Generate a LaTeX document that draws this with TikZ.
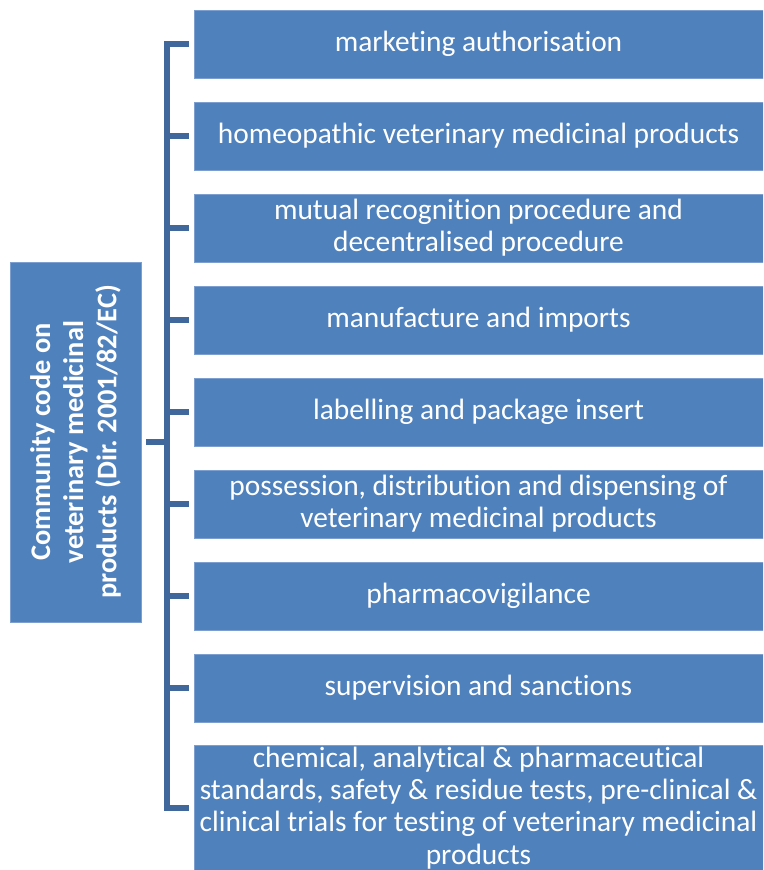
\documentclass[tikz,border=0pt]{standalone}
\usepackage{fontspec}
\setmainfont[Ligatures={NoCommon}]{Carlito}
\frenchspacing
\definecolor{boxblue}{HTML}{4F81BD}
\definecolor{boxedge}{HTML}{7D9FCF}
\definecolor{linkblue}{HTML}{41689C}
\begin{document}
\begin{tikzpicture}[x=1pt,y=-1pt,
  item/.style={fill=boxblue,draw=boxedge,line width=0.8pt,text=white,align=center,
    minimum width=569pt,minimum height=68pt,inner sep=0pt,
    font=\fontsize{29.4}{32.3}\selectfont},
  rootbox/.style={fill=boxblue,draw=boxedge,line width=0.8pt,text=white,align=center,
    minimum width=360pt,minimum height=131pt,inner sep=0pt,rotate=90,
    font=\fontsize{28.4}{33.2}\selectfont\bfseries},
  link/.style={draw=linkblue,line width=5.5pt}]
\useasboundingbox (0,0) rectangle (763,870);
\clip (0,0) rectangle (763,870);
\node[rootbox] (root) at (75.5,442) {Community code on\\veterinary medicinal\\products (Dir. 2001/82/EC)};
\node[item] (b1) at (478.5,44) {marketing authorisation};
\node[item] (b2) at (478.5,136) {homeopathic veterinary medicinal products};
\node[item] (b3) at (478.5,228) {mutual recognition procedure and\\decentralised procedure};
\node[item] (b4) at (478.5,320) {manufacture and imports};
\node[item] (b5) at (478.5,412) {labelling and package insert};
\node[item] (b6) at (478.5,504) {possession, distribution and dispensing of\\veterinary medicinal products};
\node[item] (b7) at (478.5,596) {pharmacovigilance};
\node[item] (b8) at (478.5,688) {supervision and sanctions};
\node[item,minimum height=126pt] (b9) at (478.5,808) {chemical, analytical \& pharmaceutical\\standards, safety \& residue tests, pre-clinical \&\\clinical trials for testing of veterinary medicinal\\products};
\coordinate (spTop) at (167,44);
\coordinate (spBot) at (167,808);
\draw[link] ([xshift=-5pt]b1.west) -- (spTop) -- (spBot) -- ([xshift=-5pt]b9.west);
\foreach \b in {b2,b3,b4,b5,b6,b7,b8}
  \draw[link] (spTop |- \b.west) -- ([xshift=-5pt]\b.west);
\draw[link] ([xshift=5pt]root.south) -- (spTop |- root.south);
\end{tikzpicture}
\end{document}
